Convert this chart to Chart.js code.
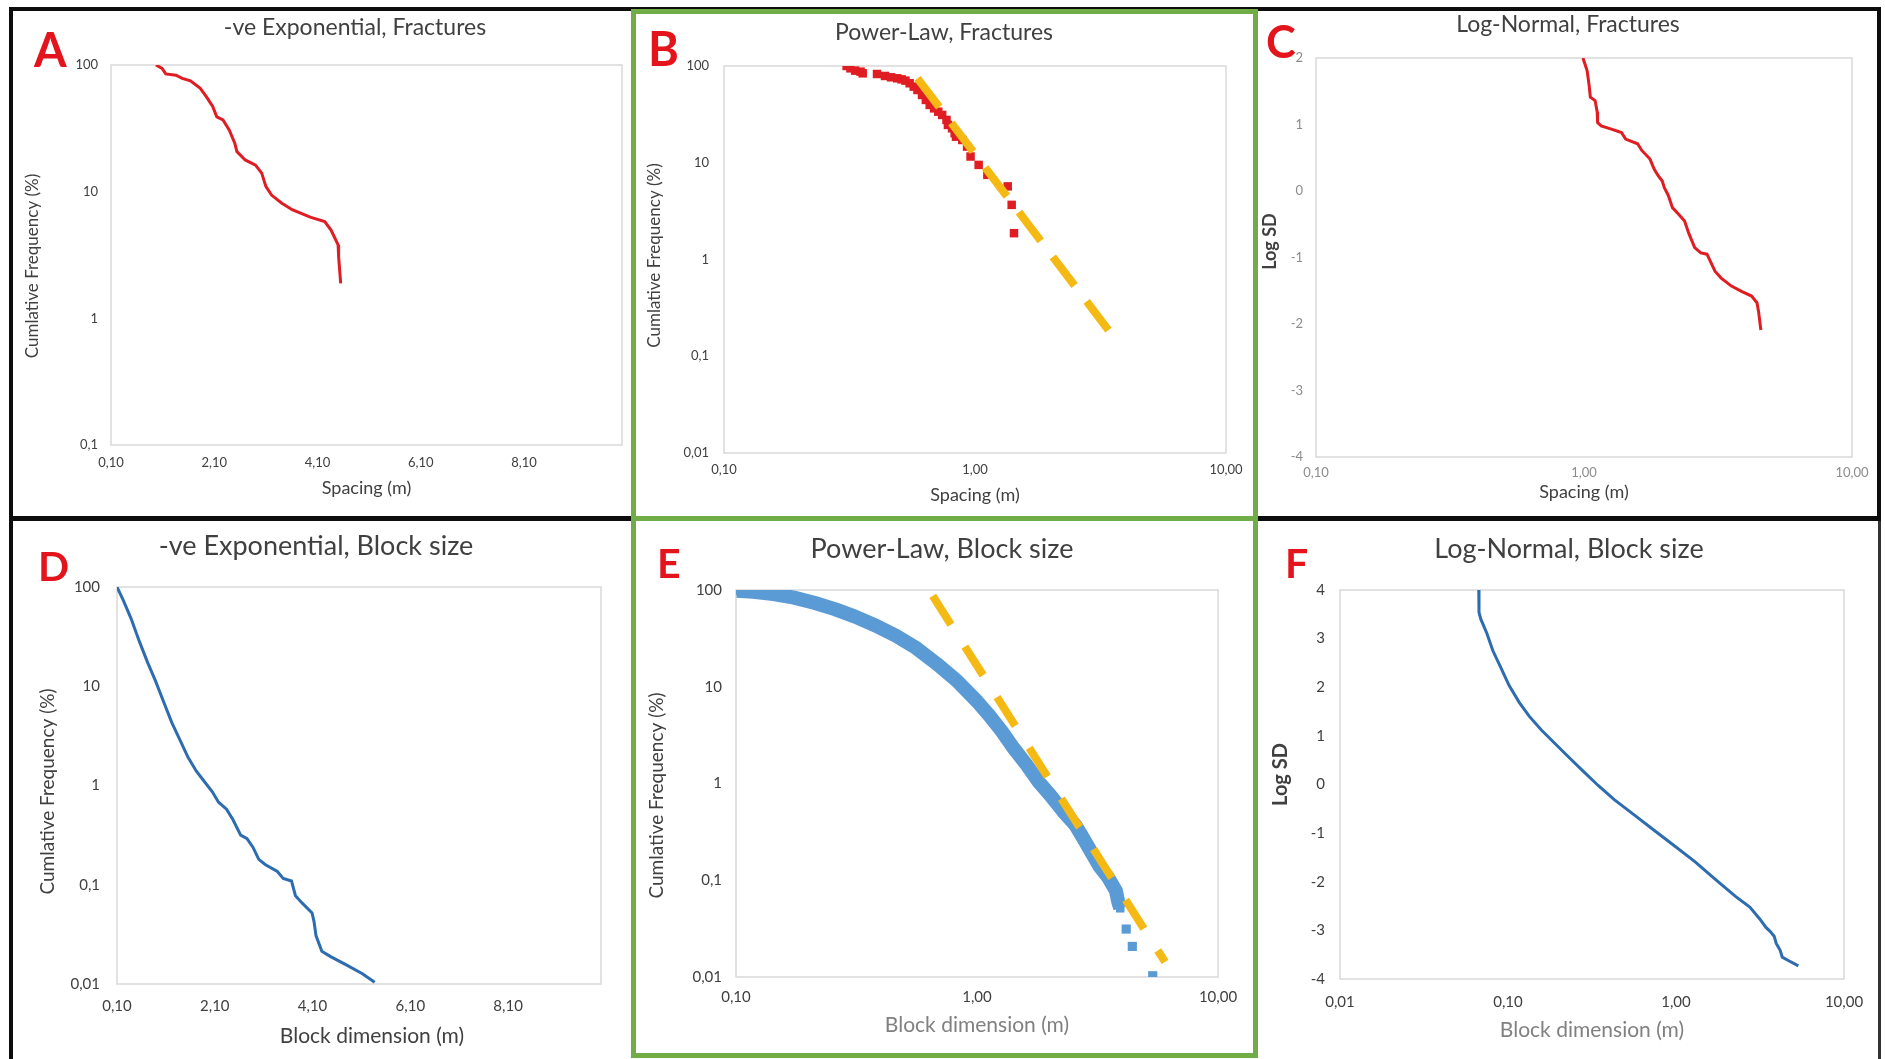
<!DOCTYPE html>
<html>
<head>
<meta charset="utf-8">
<script src="https://cdn.jsdelivr.net/npm/chart.js@4.4.1/dist/chart.umd.min.js"></script>
<style>
  body { margin: 0; background: #fff; }
  #fig { position: relative; width: 1885px; height: 1059px; overflow: hidden; background: #fff; }
  #fig canvas { position: absolute; }
  .rule { position: absolute; background: #0d0d0d; z-index: 5; }
  .frame { position: absolute; border: 5px solid #70ad47; box-sizing: border-box; z-index: 6; }
  .tag { position: absolute; color: #e3141b; font: bold 41px Lato, sans-serif; line-height: 1; z-index: 4; }
  .tag.big { font-size: 47px; }
</style>
</head>
<body>
<div id="fig">
  <div class="rule" style="left:9px;top:7px;width:1872px;height:4px"></div>
  <div class="rule" style="left:9px;top:7px;width:4px;height:1052px"></div>
  <div class="rule" style="left:1877px;top:7px;width:4px;height:514px"></div>
  <div class="rule" style="left:1878px;top:521px;width:3px;height:538px;background:#333"></div>
  <div class="rule" style="left:9px;top:516px;width:624px;height:5px"></div>
  <div class="rule" style="left:1256px;top:516px;width:625px;height:5px"></div>
  <div class="frame" style="left:631px;top:9px;width:627px;height:512px"></div>
  <div class="frame" style="left:631px;top:516px;width:627px;height:542px"></div>
  <div class="tag big" style="left:34px;top:26px">A</div>
  <div class="tag big" style="left:648px;top:25px">B</div>
  <div class="tag" style="left:1266px;top:19px;font-size:45px">C</div>
  <div class="tag" style="left:38px;top:545px">D</div>
  <div class="tag" style="left:657px;top:542px">E</div>
  <div class="tag" style="left:1285px;top:542px">F</div>
</div>
<script>
// fracture spacing, negative exponential plot
const aSpacing = [0.97, 1.09, 1.16, 1.36, 1.48, 1.64, 1.83, 1.95, 2.07, 2.15, 2.27, 2.39, 2.50, 2.54, 2.70, 2.90, 3.02, 3.10, 3.21, 3.41, 3.61, 3.96, 4.24, 4.36, 4.50, 4.51, 4.55];
const aCumFreq = [100, 94, 85, 83, 78.5, 75, 65.5, 56, 47, 39, 36.8, 30.7, 24, 20.7, 17.8, 16.2, 14, 11, 9.4, 8.1, 7.2, 6.3, 5.8, 5.0, 3.8, 3.07, 1.89];

// fracture spacing, power law plot + fitted line
const bSpacing = [0.308, 0.319, 0.333, 0.35, 0.357, 0.407, 0.438, 0.463, 0.49, 0.51, 0.528, 0.549, 0.57, 0.59, 0.615, 0.637, 0.66, 0.687, 0.714, 0.74, 0.77, 0.78, 0.81, 0.83, 0.84, 0.89, 0.93, 0.96, 1.034, 1.12, 1.35, 1.40, 1.43];
const bCumFreq = [100, 94.6, 89.5, 87.4, 84, 82.7, 78.9, 76.4, 74.6, 72.8, 70.6, 66.3, 61.2, 56.5, 50.2, 44.6, 39.6, 36.5, 33.7, 31.2, 27.7, 24.6, 22.7, 20.2, 18.6, 17.2, 14.7, 11.6, 9.5, 7.5, 5.7, 3.67, 1.87];
const bFitSpacing = [0.59, 3.51];
const bFitFreq = [74.6, 0.167];

// fracture spacing, log-normal plot
const cSpacing = [0.991, 1.027, 1.045, 1.056, 1.10, 1.12, 1.124, 1.159, 1.265, 1.38, 1.43, 1.585, 1.643, 1.763, 1.827, 1.891, 1.959, 1.994, 2.065, 2.138, 2.254, 2.373, 2.457, 2.588, 2.73, 2.876, 2.98, 3.085, 3.25, 3.55, 3.87, 4.22, 4.42, 4.48, 4.57];
const cLogSD = [2.0, 1.81, 1.59, 1.41, 1.36, 1.19, 1.03, 0.98, 0.93, 0.88, 0.78, 0.71, 0.61, 0.48, 0.33, 0.23, 0.15, 0.05, -0.07, -0.25, -0.35, -0.45, -0.63, -0.85, -0.93, -0.95, -1.08, -1.21, -1.31, -1.43, -1.51, -1.58, -1.68, -1.81, -2.09];

// block size, negative exponential plot
const dBlock = [0.1, 0.225, 0.39, 0.557, 0.723, 0.889, 1.055, 1.221, 1.387, 1.553, 1.72, 1.886, 2.05, 2.177, 2.34, 2.47, 2.63, 2.76, 2.88, 3.0, 3.13, 3.38, 3.5, 3.67, 3.75, 3.88, 4.09, 4.13, 4.17, 4.29, 4.46, 4.79, 5.12, 5.37];
const dCumFreq = [100, 74.3, 47.8, 28.3, 17.5, 11.25, 6.95, 4.3, 2.88, 1.92, 1.40, 1.097, 0.863, 0.678, 0.577, 0.454, 0.316, 0.292, 0.239, 0.18, 0.16, 0.136, 0.116, 0.109, 0.0776, 0.066, 0.0519, 0.0425, 0.0308, 0.0214, 0.019, 0.0156, 0.0127, 0.0104];

// block size, power law plot (dense band + last few blocks) + fitted line
const eBlock = [0.1008, 0.118, 0.143, 0.174, 0.211, 0.257, 0.312, 0.379, 0.461, 0.56, 0.68, 0.826, 1.004, 1.128, 1.267, 1.424, 1.60, 1.80, 2.02, 2.27, 2.56, 2.77, 2.99, 3.23, 3.49, 3.77, 3.85, 3.93];
const eCumFreq = [98.3, 96, 90.6, 83.4, 73.7, 63.5, 53, 43, 33.6, 25.1, 17.3, 11.5, 7.0, 5.0, 3.47, 2.29, 1.58, 1.047, 0.75, 0.52, 0.372, 0.268, 0.192, 0.138, 0.108, 0.078, 0.0605, 0.0513];
const eTailBlock = [4.16, 4.41, 5.36];
const eTailFreq = [0.0313, 0.0207, 0.0103];
const eFitBlock = [0.655, 6.03];
const eFitFreq = [86.9, 0.0143];

// block size, log-normal plot
const fBlock = [0.067, 0.0672, 0.0689, 0.0748, 0.0813, 0.0908, 0.1014, 0.1166, 0.134, 0.158, 0.187, 0.227, 0.275, 0.344, 0.429, 0.566, 0.747, 0.986, 1.30, 1.715, 2.26, 2.75, 3.16, 3.43, 3.63, 3.84, 3.95, 4.17, 4.29, 4.66, 5.35];
const fLogSD = [4.0, 3.54, 3.40, 3.11, 2.75, 2.40, 2.04, 1.69, 1.40, 1.12, 0.87, 0.58, 0.30, -0.02, -0.31, -0.63, -0.95, -1.27, -1.59, -1.95, -2.30, -2.52, -2.77, -2.94, -3.02, -3.12, -3.27, -3.41, -3.55, -3.62, -3.73];

// tick positions
const linSpacingTicks = [0.1, 2.1, 4.1, 6.1, 8.1];
const logSpacingTicks = [0.1, 1, 10];
const logBlockTicks = [0.01, 0.1, 1, 10];
const freqTicks3 = [0.1, 1, 10, 100];
const freqTicks4 = [0.01, 0.1, 1, 10, 100];
const sdTicksC = [-4, -3, -2, -1, 0, 1, 2];
const sdTicksF = [-4, -3, -2, -1, 0, 1, 2, 3, 4];

const RED = '#df1d22', GOLD = '#f5b914', BLUE = '#2d6cb0', LIGHTBLUE = '#5b9bd5';

Chart.defaults.font.family = 'Lato, "Open Sans", sans-serif';

const fmt2 = v => v.toFixed(2).replace('.', ',');
const fmtG = v => String(v).replace('.', ',');
const pts = (xs, ys) => xs.map((x, i) => ({ x, y: ys[i] }));

// light grey box round the plot area
const plotFrame = {
  id: 'plotFrame',
  beforeDatasetsDraw(chart) {
    const { ctx, chartArea: a } = chart;
    ctx.save();
    ctx.strokeStyle = '#d9d9d9';
    ctx.lineWidth = 1.5;
    ctx.strokeRect(a.left, a.top, a.right - a.left, a.bottom - a.top);
    ctx.restore();
  }
};

// axis titles sit a little off-centre: slide the scale box while the axes
// are painted, and put it back before the datasets (their clip uses it)
function shiftScales(chart, dir) {
  Object.values(chart.scales).forEach(s => {
    const n = (s.$nudge || 0) * dir;
    if (!n) return;
    if (s.isHorizontal()) { s.left += n; s.right += n; }
    else { s.top += n; s.bottom += n; }
  });
}
const titleNudge = {
  id: 'titleNudge',
  beforeDraw(chart) { shiftScales(chart, 1); },
  beforeDatasetsDraw(chart) { shiftScales(chart, -1); }
};

function axis(o) {
  const horiz = o.pos === 'bottom';
  return {
    type: o.type, position: o.pos, min: o.min, max: o.max,
    afterBuildTicks: s => { s.ticks = o.ticks.map(value => ({ value })); },
    afterFit: s => {
      // fixed box sizes so the plot areas line up
      if (horiz) { s.height = o.size; s.paddingLeft = 0; s.paddingRight = o.gapRight; }
      else { s.width = o.size; s.paddingTop = 0; s.paddingBottom = 0; }
      s.$nudge = o.nudge || 0;
    },
    grid: { display: false, drawTicks: false },
    border: { display: false },
    ticks: {
      autoSkip: false, maxRotation: 0, padding: o.tickPad,
      color: o.tickColor || '#404040', font: { size: o.tickSize },
      callback: v => o.fmt(v)
    },
    title: {
      display: true, text: o.title, color: o.titleColor || '#404040',
      font: { size: o.titleSize, weight: o.titleWeight || 'normal' },
      padding: horiz ? { top: 0, bottom: o.titlePad } : { top: o.titlePad, bottom: 0 }
    }
  };
}

const fig = document.getElementById('fig');

function panel(box, o) {
  const cv = document.createElement('canvas');
  cv.width = box.w; cv.height = box.h;
  cv.style.left = box.x + 'px'; cv.style.top = box.y + 'px';
  fig.appendChild(cv);
  return new Chart(cv, {
    type: 'scatter',
    data: { datasets: o.datasets },
    options: {
      responsive: false, animation: false, devicePixelRatio: 1,
      layout: { padding: 0 },
      events: [],
      plugins: {
        legend: { display: false },
        tooltip: { enabled: false },
        title: {
          display: true, text: o.title, color: '#404040',
          font: { size: o.titleSize, weight: 'normal' },
          padding: { top: o.titleTop, bottom: o.titleBottom }
        }
      },
      scales: { x: axis(o.x), y: axis(o.y) }
    },
    plugins: [titleNudge, plotFrame]
  });
}

const lineSet = (data, color) => ({ data, showLine: true, borderColor: color, borderWidth: 3, pointRadius: 0, tension: 0 });
const fitSet = (data, dash) => ({ data, showLine: true, borderColor: GOLD, borderWidth: 8, borderDash: dash, borderCapStyle: 'butt', pointRadius: 0 });
const squares = (data, color, r) => ({ data, pointStyle: 'rect', pointRadius: r, backgroundColor: color, borderColor: color, borderWidth: 0 });

// A
panel({ x: 12, y: 11, w: 686, h: 505 }, {
  title: '-ve Exponential, Fractures', titleSize: 23, titleTop: 3.2, titleBottom: 23.2,
  datasets: [lineSet(pts(aSpacing, aCumFreq), RED)],
  x: { type: 'linear', pos: 'bottom', min: 0.1, max: 10, ticks: linSpacingTicks, fmt: fmt2, size: 71, gapRight: 76,
       tickPad: 10.5, tickSize: 13, title: 'Spacing (m)', titleSize: 18, titlePad: 17.2 },
  y: { type: 'logarithmic', pos: 'left', min: 0.1, max: 100, ticks: freqTicks3, fmt: fmtG, size: 99,
       tickPad: 13, tickSize: 13, title: 'Cumlative Frequency (%)', titleSize: 17, titlePad: 10.8, nudge: 11 }
});

// B
panel({ x: 637, y: 13, w: 614, h: 503 }, {
  title: 'Power-Law, Fractures', titleSize: 23, titleTop: 6.2, titleBottom: 19.2,
  datasets: [
    fitSet(pts(bFitSpacing, bFitFreq), [36, 20]),
    squares(pts(bSpacing, bCumFreq), RED, 6)
  ],
  x: { type: 'logarithmic', pos: 'bottom', min: 0.1, max: 10, ticks: logSpacingTicks, fmt: fmt2, size: 63, gapRight: 25,
       tickPad: 9.5, tickSize: 13, title: 'Spacing (m)', titleSize: 18, titlePad: 10.2 },
  y: { type: 'logarithmic', pos: 'left', min: 0.01, max: 100, ticks: freqTicks4, fmt: fmtG, size: 87,
       tickPad: 15, tickSize: 13, title: 'Cumlative Frequency (%)', titleSize: 17, titlePad: 7.8, nudge: -4 }
});

// C
panel({ x: 1258, y: 11, w: 620, h: 505 }, {
  title: 'Log-Normal, Fractures', titleSize: 23, titleTop: 0.2, titleBottom: 19.2,
  datasets: [lineSet(pts(cSpacing, cLogSD), RED)],
  x: { type: 'logarithmic', pos: 'bottom', min: 0.1, max: 10, ticks: logSpacingTicks, fmt: fmt2, size: 59, gapRight: 26,
       tickPad: 8.5, tickSize: 13, tickColor: '#8c8c8c', title: 'Spacing (m)', titleSize: 18, titlePad: 13.2 },
  y: { type: 'linear', pos: 'left', min: -4, max: 2, ticks: sdTicksC, fmt: fmtG, size: 58,
       tickPad: 13, tickSize: 13, tickColor: '#8c8c8c', title: 'Log SD', titleSize: 18, titleWeight: 'bold', titlePad: 1.2, nudge: -16 }
});

// D
panel({ x: 0, y: 521, w: 632, h: 538 }, {
  title: '-ve Exponential, Block size', titleSize: 27, titleTop: 8.8, titleBottom: 24.8,
  datasets: [lineSet(pts(dBlock, dCumFreq), BLUE)],
  x: { type: 'linear', pos: 'bottom', min: 0.1, max: 10, ticks: linSpacingTicks, fmt: fmt2, size: 75, gapRight: 31,
       tickPad: 13, tickSize: 15, title: 'Block dimension (m)', titleSize: 21, titlePad: 10.4, nudge: 13 },
  y: { type: 'logarithmic', pos: 'left', min: 0.01, max: 100, ticks: freqTicks4, fmt: fmtG, size: 117,
       tickPad: 17, tickSize: 15, title: 'Cumlative Frequency (%)', titleSize: 19, titlePad: 36.6, nudge: 6 }
});

// E
panel({ x: 637, y: 521, w: 610, h: 532 }, {
  title: 'Power-Law, Block size', titleSize: 27, titleTop: 11.8, titleBottom: 24.8,
  datasets: [
    fitSet(pts(eFitBlock, eFitFreq), [34, 26]),
    { data: pts(eBlock, eCumFreq), showLine: true, borderColor: LIGHTBLUE, borderWidth: 14, borderJoinStyle: 'round',
      pointStyle: 'rect', pointRadius: 6, pointBorderWidth: 0, backgroundColor: LIGHTBLUE, pointBackgroundColor: LIGHTBLUE },
    squares(pts(eTailBlock, eTailFreq), LIGHTBLUE, 6.5)
  ],
  x: { type: 'logarithmic', pos: 'bottom', min: 0.1, max: 10, ticks: logSpacingTicks, fmt: fmt2, size: 76, gapRight: 29,
       tickPad: 11, tickSize: 15, title: 'Block dimension (m)', titleColor: '#808080', titleSize: 21, titlePad: 15.4 },
  y: { type: 'logarithmic', pos: 'left', min: 0.01, max: 100, ticks: freqTicks4, fmt: fmtG, size: 99,
       tickPad: 14, tickSize: 15, title: 'Cumlative Frequency (%)', titleSize: 19, titlePad: 8.6, nudge: 12 }
});

// F
panel({ x: 1258, y: 521, w: 622, h: 538 }, {
  title: 'Log-Normal, Block size', titleSize: 27, titleTop: 11.8, titleBottom: 24.8,
  datasets: [lineSet(pts(fBlock, fLogSD), BLUE)],
  x: { type: 'logarithmic', pos: 'bottom', min: 0.01, max: 10, ticks: logBlockTicks, fmt: fmt2, size: 80, gapRight: 36,
       tickPad: 14, tickSize: 15, title: 'Block dimension (m)', titleColor: '#808080', titleSize: 21, titlePad: 16.4 },
  y: { type: 'linear', pos: 'left', min: -4, max: 4, ticks: sdTicksF, fmt: fmtG, size: 82,
       tickPad: 15, tickSize: 15, title: 'Log SD', titleSize: 20, titleWeight: 'bold', titlePad: 11, nudge: -10 }
});
</script>
</body>
</html>
